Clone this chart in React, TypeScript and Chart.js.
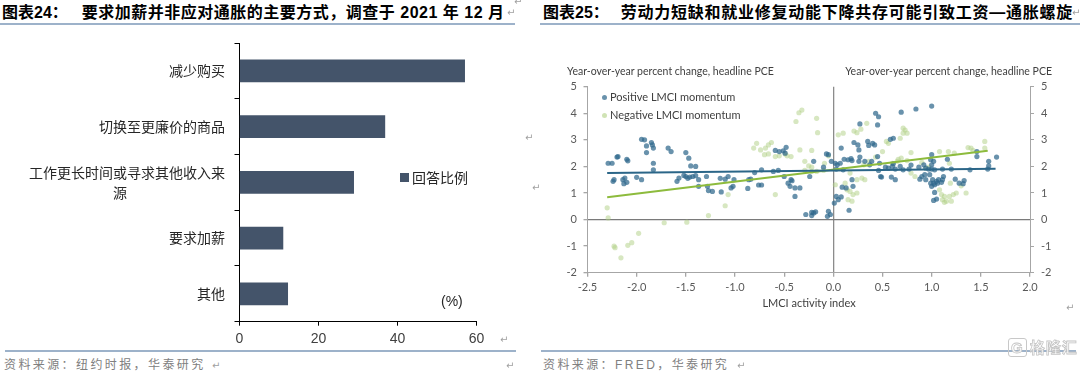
import React, { useEffect, useRef } from 'react';
import { Chart, registerables } from 'chart.js';

Chart.register(...registerables);

const CJK = '"Noto Sans CJK SC", sans-serif';
const LATIN_CJK = '"Liberation Sans", "Noto Sans CJK SC", sans-serif';
const LATO = 'Lato, "Liberation Sans", sans-serif';

// ---------- 图表24 data ----------
const surveyCategories: (string | string[])[] = [
  '减少购买',
  '切换至更廉价的商品',
  ['工作更长时间或寻求其他收入来', '源\u3000\u3000\u3000\u3000\u3000\u3000\u3000'],
  '要求加薪',
  '其他',
];
const surveyShares = [57.0, 36.8, 28.9, 11.0, 12.2];
const surveyLegend = '回答比例';
const shareAxisMin = 0;
const shareAxisMax = 60;
const shareAxisStep = 20;

// ---------- 图表25 data ----------
const positiveMomentum: [number, number][] = [
  [-2.29, 2.12], [-2.25, 2.12], [-2.2, 2.35], [-2.19, 2.37], [-2.1, 2.27], [-2.09, 2.21],
  [-1.95, 3.02], [-1.92, 3.0], [-1.9, 2.77], [-1.9, 2.52], [-1.85, 2.9], [-1.84, 2.81],
  [-1.83, 2.69], [-1.83, 2.12], [-1.83, 1.87], [-1.68, 2.69], [-1.65, 2.56], [-1.5, 2.52],
  [-1.47, 2.31], [-1.45, 2.02], [-1.4, 2.0], [-2.24, 1.44], [-2.23, 1.5], [-2.14, 1.5],
  [-2.12, 1.56], [-2.13, 1.35], [-2.1, 1.4], [-2.0, 1.59], [-1.95, 1.5], [-1.59, 1.44],
  [-1.57, 1.56], [-1.52, 1.66], [-1.5, 1.62], [-1.48, 1.55], [-1.46, 1.6], [-1.43, 1.62],
  [-1.4, 1.65], [-1.37, 1.5], [-1.37, 1.25], [-1.29, 1.62], [-1.27, 1.09],
  [-1.28, 1.25], [-1.23, 1.06], [-1.14, 1.04], [-1.15, 1.55], [-1.1, 1.52], [-1.07, 1.62],
  [-1.01, 1.5], [-1.04, 1.19], [-1.02, 1.25], [-0.87, 1.17], [-0.86, 1.5], [-0.84, 1.52],
  [-0.76, 1.3], [-0.73, 1.3], [-0.8, 1.77], [-0.73, 1.87], [-0.61, 1.81], [-0.56, 1.85],
  [-0.5, 1.62], [-0.59, 2.6], [-0.55, 2.56], [-0.51, 2.59], [-0.49, 2.5], [-0.48, 2.72],
  [-0.46, 1.37], [-0.44, 1.25], [-0.43, 1.5], [-0.42, 1.46], [-0.39, 1.19], [-0.34, 1.19],
  [-0.39, 0.87], [-0.28, 0.19], [-0.22, 0.27], [-0.2, 0.25], [-0.18, 0.29], [-0.22, 0.15],
  [-0.24, 1.62], [-0.2, 2.19], [-0.1, 1.97], [-0.05, 2.44],
  [-0.07, 2.47], [-0.05, 0.31], [-0.03, 0.19], [-0.06, 0.12], [0.01, 0.62], [0.03, 0.87],
  [0.08, 0.85], [0.05, 0.75], [-0.02, 2.19], [0.02, 2.12], [0.04, 2.06], [0.07, 2.12],
  [0.08, 2.69], [0.11, 2.27], [0.15, 2.25], [0.18, 2.29], [0.19, 2.22], [0.16, 0.35],
  [0.09, 1.22], [0.13, 1.19], [0.19, 1.5], [0.2, 1.25], [0.21, 2.9], [0.25, 2.81],
  [0.26, 2.62], [0.27, 2.35], [0.26, 2.19], [0.27, 3.6], [0.43, 4.0], [0.46, 3.87],
  [0.35, 2.94], [0.36, 2.79], [0.4, 2.87], [0.42, 2.81], [0.45, 3.56], [0.39, 2.19],
  [0.45, 2.37], [0.47, 2.12], [0.48, 1.62], [0.49, 1.6], [0.46, 1.85], [0.58, 3.02],
  [0.61, 3.06], [0.69, 4.04], [0.84, 4.16], [1.0, 4.27], [0.61, 2.1], [0.63, 1.9],
  [0.68, 2.0], [0.71, 1.87], [0.77, 1.9], [0.79, 2.05], [0.59, 1.6], [0.63, 1.5],
  [0.87, 1.97], [0.92, 2.06], [0.94, 1.94], [0.97, 1.9], [0.88, 1.52], [0.94, 1.5],
  [0.99, 1.37], [1.0, 1.25], [1.02, 1.37], [0.99, 2.25], [1.02, 2.19], [0.32, 2.19],
  [0.37, 2.06], [0.53, 1.97], [0.56, 1.94], [0.6, 2.0], [0.03, 1.9], [0.1, 1.87],
  [0.9, 1.62], [0.93, 1.69],
  [1.0, 2.44], [1.0, 2.06], [1.0, 1.9], [1.03, 1.87], [1.11, 1.9], [1.2, 1.9],
  [0.98, 1.69], [1.01, 1.5], [1.05, 1.44], [1.07, 1.5], [1.03, 1.31], [1.06, 1.37],
  [1.1, 1.4], [1.12, 1.62], [1.11, 1.5], [1.03, 1.02], [1.05, 0.77], [1.02, 0.72],
  [1.16, 2.27], [1.24, 1.52], [1.28, 1.37], [1.33, 1.47], [1.32, 1.35], [1.39, 1.87],
  [1.46, 2.56], [1.46, 2.37], [1.58, 2.19], [1.58, 2.02], [1.57, 1.9], [1.66, 2.35],
];

const negativeMomentum: [number, number][] = [
  [-2.3, 0.44], [-2.29, 0.06], [-2.23, -1.0], [-2.22, -1.06], [-2.16, -1.44], [-2.09, -0.97],
  [-2.05, -0.87], [-1.98, -0.52], [-1.72, -0.12], [-1.49, -0.1], [-1.27, 0.15],
  [-1.1, 0.52], [-1.07, 0.94], [-0.59, 0.94], [-0.81, 2.69], [-0.78, 2.87], [-0.74, 2.62],
  [-0.69, 2.69], [-0.66, 2.81], [-0.63, 2.9], [-0.7, 2.44], [-0.66, 2.47], [-0.59, 2.37],
  [-0.55, 2.4], [-0.49, 2.47], [-0.47, 2.4], [-0.43, 2.37], [-0.38, 3.69], [-0.35, 4.02],
  [-0.32, 4.12], [-0.17, 3.81], [-0.16, 3.27], [-0.34, 2.62], [-0.22, 2.6], [-0.29, 2.19],
  [-0.25, 2.02], [-0.22, 1.97], [-0.29, 1.85], [-0.22, 1.81], [-0.17, 1.81], [-0.09, 2.12],
  [-0.05, 2.4], [-0.1, 1.85],
  [0.05, 3.19], [0.1, 3.25], [0.24, 3.27], [0.28, 3.4], [0.34, 3.62], [0.21, 3.33],
  [0.02, 1.31], [0.12, 1.37], [0.14, 1.12], [0.17, 1.06], [0.2, 0.94], [0.24, 1.0],
  [0.19, 0.69], [0.15, 0.75], [0.17, 1.75], [0.24, 1.5], [0.29, 1.56], [0.32, 1.5],
  [0.31, 2.06], [0.36, 2.19], [0.43, 2.35], [0.5, 2.56], [0.54, 2.94], [0.56, 2.87],
  [0.6, 2.12], [0.65, 2.19], [0.66, 2.27], [0.71, 3.44], [0.73, 3.37], [0.75, 3.25],
  [0.71, 3.25], [0.69, 2.31], [0.75, 2.22], [0.79, 1.75], [0.83, 1.62], [0.94, 1.94],
  [0.97, 1.97], [0.9, 2.15], [0.79, 2.52], [0.68, 3.06],
  [1.08, 2.56], [1.17, 2.56], [1.23, 2.5], [1.37, 2.71], [1.4, 2.69], [1.42, 2.6],
  [1.54, 2.94], [1.54, 2.69], [1.18, 2.12], [1.08, 1.12], [1.1, 0.94], [1.13, 0.87],
  [1.15, 0.69], [1.18, 0.87], [1.22, 0.94], [1.25, 1.0], [1.35, 1.0], [1.11, 0.75],
  [1.13, 0.65], [1.2, 0.69], [1.3, 1.27], [1.19, 1.37],
];

const positiveTrend: [number, number][] = [[-2.3, 1.75], [1.65, 1.91]];
const negativeTrend: [number, number][] = [[-2.3, 0.84], [1.57, 2.59]];

const lmciMin = -2.5;
const lmciMax = 2.0;
const lmciStep = 0.5;
const pceMin = -2;
const pceMax = 5;
const pceStep = 1;

const toXY = (pts: [number, number][]) => pts.map(([x, y]) => ({ x, y }));

function SurveyChart() {
  const ref = useRef<HTMLCanvasElement>(null);
  useEffect(() => {
    const chart = new Chart(ref.current as HTMLCanvasElement, {
      type: 'bar',
      data: {
        labels: surveyCategories as any,
        datasets: [
          {
            label: surveyLegend,
            data: surveyShares,
            backgroundColor: '#44546A',
            barThickness: 22,
          },
        ],
      },
      options: {
        indexAxis: 'y',
        responsive: false,
        animation: false,
        layout: { padding: { top: 43, left: 0, right: 63.5, bottom: 0 } },
        plugins: { legend: { display: false }, tooltip: { enabled: false } },
        scales: {
          x: {
            min: shareAxisMin,
            max: shareAxisMax,
            ticks: {
              stepSize: shareAxisStep,
              color: '#404040',
              font: { family: '"Liberation Sans", sans-serif', size: 14 },
              padding: 5,
            },
            grid: { drawOnChartArea: false, tickLength: 4, color: '#000', tickColor: '#000' },
            border: { color: '#000', width: 1 },
            afterFit: (s: any) => {
              s.height = 28.3;
            },
          } as any,
          y: {
            ticks: {
              color: '#262626',
              font: { family: CJK, size: 14, lineHeight: 1.43 },
              padding: 9.5,
              autoSkip: false,
            },
            grid: { drawOnChartArea: false, tickLength: 5, color: '#000', offset: true },
            border: { color: '#000', width: 1 },
            afterFit: (s: any) => {
              s.width = 239.5;
            },
          } as any,
        },
      },
    });
    return () => chart.destroy();
  }, []);
  return (
    <canvas
      ref={ref}
      width={540}
      height={350}
      style={{ position: 'absolute', left: 0, top: 0, width: 540, height: 350 }}
    />
  );
}

function PceChart() {
  const ref = useRef<HTMLCanvasElement>(null);
  useEffect(() => {
    const tickFont = { family: LATO, size: 11 };
    const zeroColor = (c: string) => (ctx: any) =>
      ctx.tick && ctx.tick.value === 0 ? c : 'rgba(0,0,0,0)';
    const chart = new Chart(ref.current as HTMLCanvasElement, {
      type: 'scatter',
      data: {
        datasets: [
          {
            label: 'Positive trend',
            data: toXY(positiveTrend),
            showLine: true,
            borderColor: '#2b6688',
            borderWidth: 2,
            pointRadius: 0,
          },
          {
            label: 'Negative trend',
            data: toXY(negativeTrend),
            showLine: true,
            borderColor: '#8dbb3d',
            borderWidth: 2,
            pointRadius: 0,
          },
          {
            label: 'Positive LMCI momentum',
            data: toXY(positiveMomentum),
            backgroundColor: 'rgba(47,104,140,0.72)',
            borderWidth: 0,
            pointRadius: 2.6,
          },
          {
            label: 'Negative LMCI momentum',
            data: toXY(negativeMomentum),
            backgroundColor: 'rgba(176,208,132,0.5)',
            borderWidth: 0,
            pointRadius: 2.6,
          },
        ],
      },
      options: {
        responsive: false,
        animation: false,
        layout: { padding: { top: 86.7, left: 0, right: 0, bottom: 0 } },
        plugins: { legend: { display: false }, tooltip: { enabled: false } },
        scales: {
          x: {
            type: 'linear',
            min: lmciMin,
            max: lmciMax,
            ticks: {
              stepSize: lmciStep,
              callback: (v: any) => Number(v).toFixed(1),
              color: '#595959',
              font: tickFont,
              padding: 4,
            },
            grid: {
              color: zeroColor('#8c8c8c'),
              lineWidth: 1.3,
              tickColor: '#a6a6a6',
              tickLength: 4,
            },
            border: { color: '#a6a6a6', width: 1 },
            afterFit: (s: any) => {
              s.height = 77.3;
            },
          } as any,
          y: {
            position: 'left',
            min: pceMin,
            max: pceMax,
            ticks: { stepSize: pceStep, color: '#595959', font: tickFont, padding: 6.5 },
            grid: {
              color: zeroColor('#7a7a7a'),
              lineWidth: 1.3,
              tickColor: '#a6a6a6',
              tickLength: 4,
            },
            border: { color: '#a6a6a6', width: 1 },
            afterFit: (s: any) => {
              s.width = 47.5;
            },
          } as any,
          y2: {
            position: 'right',
            min: pceMin,
            max: pceMax,
            ticks: { stepSize: pceStep, color: '#595959', font: tickFont, padding: 7 },
            grid: { drawOnChartArea: false, tickColor: '#a6a6a6', tickLength: 4 },
            border: { color: '#a6a6a6', width: 1 },
            afterFit: (s: any) => {
              s.width = 50;
            },
          } as any,
        },
      },
    });
    return () => chart.destroy();
  }, []);
  return (
    <canvas
      ref={ref}
      width={540}
      height={350}
      style={{ position: 'absolute', left: 540, top: 0, width: 540, height: 350 }}
    />
  );
}

const abs = (style: React.CSSProperties): React.CSSProperties => ({
  position: 'absolute',
  whiteSpace: 'nowrap',
  ...style,
});

const markStyle = (left: number, top: number): React.CSSProperties =>
  abs({ left, top, fontFamily: '"DejaVu Sans", sans-serif', fontSize: 10, color: '#a0a0a0', lineHeight: '12px' });

export default function App() {
  const titleStyle: React.CSSProperties = {
    fontFamily: LATIN_CJK,
    fontWeight: 700,
    fontSize: 16,
    lineHeight: '20px',
    color: '#000',
  };
  const sourceStyle: React.CSSProperties = {
    fontFamily: LATIN_CJK,
    fontSize: 12,
    letterSpacing: 2.4,
    lineHeight: '14px',
    color: '#808080',
  };
  const lineColor = '#9db2ca';
  return (
    <div
      style={{
        position: 'absolute',
        left: 0,
        top: 0,
        width: 1080,
        height: 374,
        background: '#fff',
        overflow: 'hidden',
      }}
    >
      {/* titles */}
      <div style={abs({ ...titleStyle, left: 2, top: 3 })}>
        图表24：<span style={{ marginLeft: 14, letterSpacing: 0.5 }}>要求加薪并非应对通胀的主要方式，调查于 2021 年 12 月</span>
      </div>
      <div style={abs({ ...titleStyle, left: 543, top: 3 })}>
        图表25：<span style={{ marginLeft: 12, letterSpacing: 0.75 }}>劳动力短缺和就业修复动能下降共存可能引致工资—通胀螺旋</span>
      </div>
      <div style={abs({ left: 0, top: 23, width: 515, height: 2, background: lineColor })} />
      <div style={abs({ left: 540, top: 23, width: 540, height: 2, background: lineColor })} />

      <SurveyChart />
      <PceChart />

      {/* chart 24 legend and unit */}
      <div style={abs({ left: 400, top: 173, width: 8.6, height: 8.6, background: '#44546A' })} />
      <div style={abs({ left: 412, top: 168, fontFamily: CJK, fontSize: 14, lineHeight: '18px', color: '#262626' })}>
        {surveyLegend}
      </div>
      <div style={abs({ left: 441, top: 293, fontFamily: '"Liberation Sans", sans-serif', fontSize: 14, lineHeight: '17px', color: '#262626' })}>
        (%)
      </div>

      {/* chart 25 axis titles and legend */}
      <div style={abs({ left: 567, top: 64, fontFamily: LATO, fontSize: 10.5, lineHeight: '14px', color: '#404040' })}>
        Year-over-year percent change, headline PCE
      </div>
      <div style={abs({ right: 28, top: 64, fontFamily: LATO, fontSize: 10.5, lineHeight: '14px', color: '#404040', textAlign: 'right' })}>
        Year-over-year percent change, headline PCE
      </div>
      <div style={abs({ left: 809, top: 296, transform: 'translateX(-50%)', fontFamily: LATO, fontSize: 11, lineHeight: '14px', color: '#404040' })}>
        LMCI activity index
      </div>
      <div style={abs({ left: 601.5, top: 95, width: 5, height: 5, borderRadius: '50%', background: 'rgba(47,104,140,0.72)' })} />
      <div style={abs({ left: 610, top: 90, fontFamily: LATO, fontSize: 11, lineHeight: '14px', color: '#404040' })}>
        Positive LMCI momentum
      </div>
      <div style={abs({ left: 601.5, top: 112.5, width: 5, height: 5, borderRadius: '50%', background: 'rgba(176,208,132,0.6)' })} />
      <div style={abs({ left: 610, top: 108, fontFamily: LATO, fontSize: 11, lineHeight: '14px', color: '#404040' })}>
        Negative LMCI momentum
      </div>

      {/* bottom lines and sources */}
      <div style={abs({ left: 5, top: 349.5, width: 511, height: 2, background: lineColor })} />
      <div style={abs({ left: 541, top: 349.5, width: 535, height: 2, background: lineColor })} />
      <div style={abs({ ...sourceStyle, left: 4, top: 358 })}>资料来源：纽约时报，华泰研究</div>
      <div style={abs({ ...sourceStyle, left: 543, top: 358 })}>资料来源：FRED，华泰研究</div>

      {/* paragraph marks */}
      <div style={markStyle(507, 7)}>↵</div>
      <div style={markStyle(514, -4)}>↵</div>
      <div style={markStyle(525, 132)}>↵</div>
      <div style={markStyle(500, 334)}>↵</div>
      <div style={markStyle(212, 360)}>↵</div>
      <div style={markStyle(506, 360)}>↵</div>
      <div style={markStyle(532, 182)}>↵</div>
      <div style={markStyle(1072, 7)}>↵</div>
      <div style={markStyle(1066, 302)}>↵</div>
      <div style={markStyle(737, 360)}>↵</div>

      {/* watermark */}
      <div
        style={abs({
          left: 1008,
          top: 338,
          fontFamily: CJK,
          fontWeight: 700,
          fontSize: 15,
          lineHeight: '18px',
          color: 'rgba(255,255,255,0.9)',
          WebkitTextStroke: '0.8px #c4c4c4',
          letterSpacing: 1,
        } as React.CSSProperties)}
      >
        <span style={{ border: '1.5px solid #c8c8c8', borderRadius: 3, padding: '0 2px', marginRight: 3, fontFamily: '"Liberation Sans", sans-serif' }}>G</span>
        格隆汇
      </div>
    </div>
  );
}
